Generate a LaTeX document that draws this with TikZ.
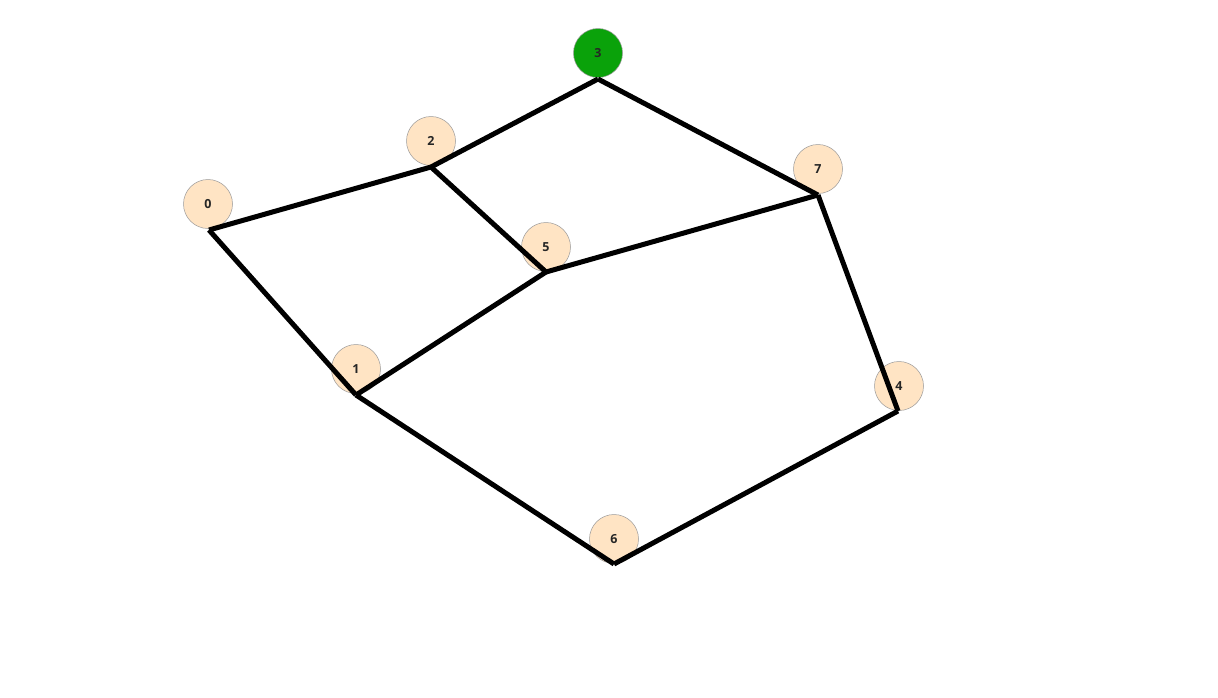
\documentclass[tikz,border=0pt]{standalone}
\usepackage{fontspec}
\setmainfont{Open Sans}
\begin{document}
\begin{tikzpicture}[x=1pt,y=-1pt,
  vert/.style={circle,draw=gray!80,line width=0.5pt,fill=bisque,minimum size=49pt,inner sep=0pt,font=\fontsize{12.5}{14}\selectfont\bfseries,text=black!85},
  start/.style={vert,fill=greenfill},
  edge/.style={line width=5pt,black}]
\definecolor{bisque}{HTML}{FFE4C4}
\definecolor{greenfill}{HTML}{0AA20A}
\useasboundingbox (0,0) rectangle (1218,697);
\fill[white] (0,0) rectangle (1218,697);
% attachment points
\coordinate (p0) at (209,230);
\coordinate (p1) at (356,395);
\coordinate (p2) at (431,167);
\coordinate (p3) at (598,79);
\coordinate (p4) at (898,411);
\coordinate (p5) at (546,272);
\coordinate (p6) at (614,564);
\coordinate (p7) at (818,195);
% vertices
\node[vert] (n0) at (208,204) {0};
\node[vert] (n1) at (356,369) {1};
\node[vert] (n2) at (431,141) {2};
\node[start] (n3) at (598,53) {3};
\node[vert] (n4) at (899,386) {4};
\node[vert] (n5) at (546,247) {5};
\node[vert] (n6) at (614,539) {6};
\node[vert] (n7) at (818,169) {7};
% edges
\draw[edge] (p0) -- (p2);
\draw[edge] (p2) -- (p3);
\draw[edge] (p3) -- (p7);
\draw[edge] (p2) -- (p5);
\draw[edge] (p5) -- (p7);
\draw[edge] (p0) -- (p1);
\draw[edge] (p1) -- (p5);
\draw[edge] (p1) -- (p6);
\draw[edge] (p6) -- (p4);
\draw[edge] (p4) -- (p7);
\end{tikzpicture}
\end{document}
